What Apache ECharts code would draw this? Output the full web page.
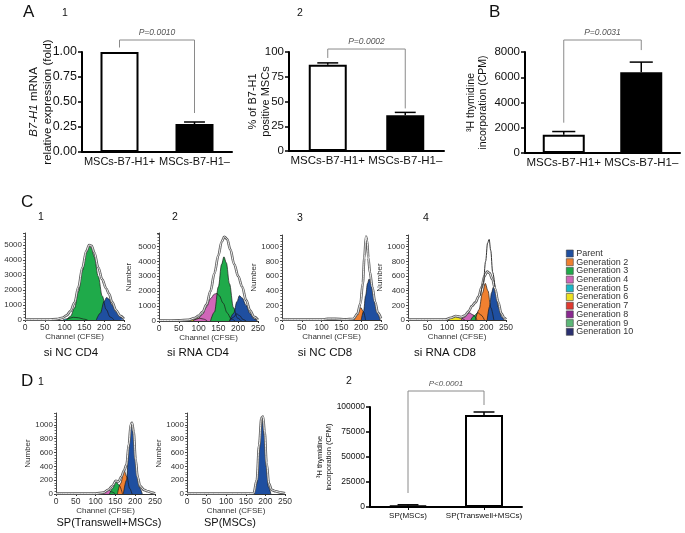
<!DOCTYPE html>
<html><head><meta charset="utf-8">
<script src="https://cdn.jsdelivr.net/npm/echarts/dist/echarts.min.js"></script>
<style>html,body{margin:0;padding:0;background:#fff}#c{width:685px;height:533px}</style>
</head><body><div id="c"></div>
<script>
// ---------- DATA ----------
const catsAB = ['MSCs-B7-H1+', 'MSCs-B7-H1–'];
const a1Values = [1.00, 0.28];
const a1ErrTop = [1.00, 0.30];
const a1Ticks = [0, 0.25, 0.5, 0.75, 1.0];
const a1Bracket = [1.045, 0.39, 1.12];
const a1P = 'P=0.0010';

const a2Values = [87, 36];
const a2ErrTop = [89, 39];
const a2Ticks = [0, 25, 50, 75, 100];
const a2Bracket = [94, 43, 103];
const a2P = 'P=0.0002';

const bValues = [1450, 6400];
const bErrTop = [1700, 7200];
const bTicks = [0, 2000, 4000, 6000, 8000];
const bBracket = [2400, 8150, 8950];
const bP = 'P=0.0031';

const d2Cats = ['SP(MSCs)', 'SP(Transwell+MSCs)'];
const d2Values = [1500, 92000];
const d2ErrTop = [2200, 95000];
const d2Ticks = [0, 25000, 50000, 75000, 100000];
const d2Bracket = [14000, 102000, 116000];
const d2P = 'P<0.0001';

const histXTicks = [0, 50, 100, 150, 200, 250];
const cd4YTicks = [0, 1000, 2000, 3000, 4000, 5000];
const smallYTicks = [0, 200, 400, 600, 800, 1000];

const legendNames = ['Parent', 'Generation 2', 'Generation 3', 'Generation 4', 'Generation 5',
  'Generation 6', 'Generation 7', 'Generation 8', 'Generation 9', 'Generation 10'];

// C1 si NC CD4  ([channel, count])
const c1Parent = [[180,0],[190,450],[200,1250],[206,1500],[212,1400],[220,1000],[230,550],[240,200],[250,40]];
const c1Gen3 = [[105,0],[115,250],[125,800],[135,1900],[145,3300],[155,4500],[162,4900],[168,4800],[175,4200],[185,2900],[195,1600],[205,700],[215,200],[225,0]];
const c1Gen5 = [[95,0],[108,90],[122,180],[135,150],[148,60],[158,0]];
const c1Outline = [[0,25],[60,25],[80,60],[95,150],[105,300],[115,600],[125,1150],[135,2200],[145,3500],[155,4600],[162,5000],[168,4950],[175,4500],[185,3500],[195,2700],[205,2100],[212,1750],[220,1200],[230,650],[240,280],[250,80]];

// C2 si RNA CD4
const c2Parent = [[178,0],[188,500],[197,1300],[203,1700],[210,1550],[220,1050],[230,500],[240,150],[248,0]];
const c2Gen2 = [[178,0],[188,250],[196,480],[204,350],[212,100],[220,0]];
const c2Gen3 = [[130,0],[140,600],[150,2300],[158,3800],[164,4300],[170,3900],[178,2500],[188,900],[198,200],[208,0]];
const c2Gen4 = [[85,0],[98,150],[110,450],[120,950],[130,1500],[140,1800],[146,1850],[152,1700],[162,1200],[172,550],[182,150],[192,0]];
const c2Gen6 = [[75,0],[88,90],[100,200],[112,130],[122,0]];
const c2Outline = [[0,30],[50,40],[75,80],[90,200],[100,350],[110,600],[120,1100],[130,2000],[140,3200],[150,4400],[158,5300],[165,5650],[172,5500],[180,4800],[190,3800],[200,3000],[210,2300],[220,1400],[230,700],[240,280],[250,80]];

// C3 si NC CD8
const c3Parent = [[200,0],[206,120],[211,330],[216,500],[220,560],[225,500],[231,330],[240,100],[248,0]];
const c3Gen2 = [[180,0],[190,70],[199,170],[205,120],[211,0]];
const c3Outline = [[0,5],[100,5],[115,15],[135,15],[160,8],[180,15],[190,80],[198,220],[204,500],[208,850],[212,1140],[215,1080],[218,850],[222,650],[228,450],[235,250],[242,100],[250,20]];

// C4 si RNA CD8
const c4Parent = [[202,0],[208,180],[213,370],[218,450],[224,360],[231,170],[239,40],[245,0]];
const c4Gen2 = [[172,0],[181,140],[190,370],[197,500],[204,400],[211,170],[219,0]];
const c4Gen3 = [[160,0],[169,60],[178,100],[186,70],[195,0]];
const c4Gen4 = [[135,0],[145,40],[156,100],[166,70],[176,0]];
const c4Gen6 = [[100,0],[110,25],[121,45],[134,25],[145,0]];
const c4Outline = [[0,5],[95,5],[110,30],[122,55],[135,40],[145,60],[155,120],[163,190],[172,240],[180,320],[188,450],[195,600],[202,660],[208,640],[215,560],[222,430],[230,250],[238,90],[245,30],[250,10]];
const c4Sharp = [[185,330],[192,500],[198,800],[203,1050],[207,1100],[211,950],[216,650],[222,450]];

// D1 SP(Transwell+MSCs)
const d1aParent = [[170,0],[178,200],[184,650],[189,980],[192,1000],[197,800],[203,400],[210,100],[218,0]];
const d1aGen2 = [[155,0],[163,150],[172,340],[179,250],[186,80],[192,0]];
const d1aGen3 = [[135,0],[143,80],[151,180],[159,130],[168,0]];
const d1aGen4 = [[115,0],[124,30],[132,60],[141,30],[150,0]];
const d1aOutline = [[0,5],[100,5],[120,20],[132,60],[143,120],[151,190],[158,180],[165,250],[172,340],[178,420],[184,720],[189,1010],[192,1030],[196,900],[201,500],[206,250],[212,120],[222,60],[232,40],[242,20],[250,5]];

// D1 SP(MSCs)
const d1bParent = [[170,0],[178,150],[184,600],[189,1000],[193,1050],[197,850],[202,400],[208,100],[214,0]];
const d1bOutline = [[0,5],[150,5],[170,10],[178,200],[184,700],[190,1100],[194,1120],[198,900],[203,450],[209,150],[216,60],[226,40],[240,20],[250,10]];

// ---------- STYLE ----------
const FONT = '"Liberation Sans", Arial, sans-serif';
const genColors = {
  'Parent':'#1f4fa0','Generation 2':'#f08030','Generation 3':'#1faa4a','Generation 4':'#d066b8',
  'Generation 5':'#1ab8c8','Generation 6':'#ece020','Generation 7':'#e03a30','Generation 8':'#8a2890',
  'Generation 9':'#5cb878','Generation 10':'#2a3070'
};

const grids = [], xAxes = [], yAxes = [], series = [];

function addBarPanel(cfg) {
  const gi = grids.length;
  grids.push(Object.assign({containLabel:false}, cfg.grid));
  xAxes.push({
    type:'category', gridIndex:gi, data:cfg.cats,
    axisLine:{lineStyle:{color:'#000', width:cfg.axisW}},
    axisTick:{show:!!cfg.xTicks, alignWithLabel:true, length:3, lineStyle:{color:'#000'}},
    axisLabel:{interval:0, color:'#111', fontFamily:FONT, fontSize:cfg.xFont, margin:cfg.xMargin, hideOverlap:false}
  });
  const t = cfg.yTicks;
  yAxes.push({
    type:'value', gridIndex:gi, min:t[0], max:t[t.length-1], interval:t[1]-t[0],
    name:cfg.yName, nameLocation:'middle', nameRotate:90, nameGap:cfg.nameGap, nameMoveOverlap:false,
    nameTextStyle:{fontFamily:FONT, fontSize:cfg.nameFont, color:'#111', lineHeight:cfg.nameFont*1.15,
      rich:{i:{fontStyle:'italic', fontFamily:FONT, fontSize:cfg.nameFont, color:'#111'}}},
    axisLine:{show:true, lineStyle:{color:'#000', width:cfg.axisW}},
    axisTick:{show:true, length:4, lineStyle:{color:'#000', width:1.5}},
    axisLabel:{color:'#111', fontFamily:FONT, fontSize:cfg.yFont, margin:5, formatter:cfg.fmt},
    splitLine:{show:false}
  });
  series.push({
    type:'bar', xAxisIndex:gi, yAxisIndex:gi, barWidth:cfg.barWidth,
    data:cfg.values.map((v,i)=>({value:v, itemStyle:{color:cfg.fills[i], borderColor:'#000', borderWidth:2}}))
  });
  const cap = cfg.barWidth*0.55;
  series.push({
    type:'custom', xAxisIndex:gi, yAxisIndex:gi, z:5, encode:{x:0, y:[1,2]},
    data:cfg.values.map((v,i)=>[i, v, cfg.errTop[i]]),
    renderItem:(params, api)=>{
      const v = api.value(1), e = api.value(2);
      if (!(e > v)) return null;
      const p1 = api.coord([api.value(0), v]), p2 = api.coord([api.value(0), e]);
      return {type:'group', children:[
        {type:'line', shape:{x1:p1[0], y1:p1[1], x2:p2[0], y2:p2[1]}, style:{stroke:'#000', lineWidth:1.5}},
        {type:'line', shape:{x1:p2[0]-cap/2, y1:p2[1], x2:p2[0]+cap/2, y2:p2[1]}, style:{stroke:'#000', lineWidth:1.5}}
      ]};
    }
  });
  const b = cfg.bracket;
  series.push({
    type:'custom', xAxisIndex:gi, yAxisIndex:gi, z:5, encode:{x:0, y:[1,2,3]},
    data:[[0, b[0], b[1], b[2]]],
    renderItem:(params, api)=>{
      const lb = api.value(1), rb = api.value(2), top = api.value(3);
      const a = api.coord([0, lb]), bb = api.coord([0, top]), c = api.coord([1, top]), d = api.coord([1, rb]);
      return {type:'group', children:[
        {type:'polyline', shape:{points:[a, bb, c, d]}, style:{stroke:'#8a8a8a', lineWidth:1, fill:null}},
        {type:'text', style:{text:cfg.pText, x:(bb[0]+c[0])/2, y:bb[1]-3, align:'center', verticalAlign:'bottom',
          font:'italic '+cfg.pFont+'px '+FONT, fill:'#555'}}
      ]};
    }
  });
}

function addHist(cfg) {
  const gi = grids.length;
  grids.push(Object.assign({containLabel:false}, cfg.grid));
  xAxes.push({
    type:'value', gridIndex:gi, min:histXTicks[0], max:histXTicks[histXTicks.length-1],
    interval:histXTicks[1]-histXTicks[0],
    name:'Channel (CFSE)', nameLocation:'middle', nameGap:13,
    nameTextStyle:{fontFamily:FONT, fontSize:8, color:'#333'},
    axisLine:{lineStyle:{color:'#333', width:1}},
    axisTick:{show:true, length:2, lineStyle:{color:'#333'}},
    axisLabel:{color:'#333', fontFamily:FONT, fontSize:8.5, margin:3},
    splitLine:{show:false}
  });
  const t = cfg.yTicks;
  yAxes.push({
    type:'value', gridIndex:gi, min:0, max:cfg.ymax, interval:t[1]-t[0],
    name:cfg.yName ? 'Number' : '', nameLocation:'middle', nameRotate:90, nameGap:cfg.nameGap || 24,
    nameTextStyle:{fontFamily:FONT, fontSize:8, color:'#333'},
    axisLine:{show:true, lineStyle:{color:'#444', width:1}},
    axisTick:{show:true, length:2, lineStyle:{color:'#444'}},
    minorTick:{show:true, splitNumber:5, length:1.5, lineStyle:{color:'#666'}},
    axisLabel:{color:'#333', fontFamily:FONT, fontSize:8, margin:3,
      formatter:(v)=> (t.indexOf(v) >= 0 ? String(v) : '')},
    splitLine:{show:false}
  });
  cfg.peaks.forEach(p=>{
    series.push({
      type:'line', name:p.name, xAxisIndex:gi, yAxisIndex:gi, data:p.data, smooth:0.35, smoothMonotone:'x',
      symbol:'none', z:2, itemStyle:{color:genColors[p.name]},
      lineStyle:{color:'#1a1a1a', width:0.7},
      areaStyle:{color:genColors[p.name], opacity:1}
    });
  });
  cfg.outlines.forEach(o=>{
    series.push({type:'line', xAxisIndex:gi, yAxisIndex:gi, data:o, smooth:0.35, smoothMonotone:'x',
      symbol:'none', z:3, lineStyle:{color:'#5a5a5a', width:2.6}, silent:true});
    series.push({type:'line', xAxisIndex:gi, yAxisIndex:gi, data:o, smooth:0.35, smoothMonotone:'x',
      symbol:'none', z:4, lineStyle:{color:'#ffffff', width:0.9}, silent:true});
  });
  (cfg.thin || []).forEach(o=>{
    series.push({type:'line', xAxisIndex:gi, yAxisIndex:gi, data:o, smooth:0.35, smoothMonotone:'x',
      symbol:'none', z:4, lineStyle:{color:'#333', width:1}, silent:true});
  });
}

// ---------- PANELS ----------
addBarPanel({grid:{left:82, top:52, width:150, height:100}, cats:catsAB, values:a1Values, errTop:a1ErrTop,
  fills:['#ffffff','#000000'], yTicks:a1Ticks, fmt:(v)=>v.toFixed(2),
  yName:'{i|B7-H1} mRNA\nrelative expression (fold)', nameGap:28, nameFont:11.5, yFont:12.5, xFont:11, xMargin:4,
  barWidth:38, axisW:2, bracket:a1Bracket, pText:a1P, pFont:8.5});

addBarPanel({grid:{left:289, top:52, width:155, height:99}, cats:catsAB, values:a2Values, errTop:a2ErrTop,
  fills:['#ffffff','#000000'], yTicks:a2Ticks, fmt:(v)=>String(v),
  yName:'% of B7-H1\npositive MSCs', nameGap:17, nameFont:11, yFont:11.5, xFont:11.5, xMargin:4,
  barWidth:38, axisW:2, bracket:a2Bracket, pText:a2P, pFont:8.5});

addBarPanel({grid:{left:525, top:52, width:155, height:101}, cats:catsAB, values:bValues, errTop:bErrTop,
  fills:['#ffffff','#000000'], yTicks:bTicks, fmt:(v)=>String(v),
  yName:'³H thymidine\nincorporation (CPM)', nameGap:36, nameFont:10.5, yFont:11.5, xFont:11.5, xMargin:4,
  barWidth:42, axisW:2, bracket:bBracket, pText:bP, pFont:8.5});

addBarPanel({grid:{left:370, top:407, width:152, height:100}, cats:d2Cats, values:d2Values, errTop:d2ErrTop,
  fills:['#000000','#ffffff'], yTicks:d2Ticks, fmt:(v)=>String(v),
  yName:'³H thymidine\nincorporation (CPM)', nameGap:37, nameFont:7.5, yFont:8.5, xFont:8, xMargin:5,
  barWidth:38, axisW:2, xTicks:true, bracket:d2Bracket, pText:d2P, pFont:8});

addHist({grid:{left:25, top:233, width:99, height:87}, ymax:5800, yTicks:cd4YTicks, yName:false,
  peaks:[{name:'Generation 5', data:c1Gen5},{name:'Generation 3', data:c1Gen3},{name:'Parent', data:c1Parent},
         {name:'Generation 7', data:[]},{name:'Generation 8', data:[]},{name:'Generation 9', data:[]},{name:'Generation 10', data:[]}],
  outlines:[c1Outline]});
addHist({grid:{left:159, top:233, width:99, height:88}, ymax:5900, yTicks:cd4YTicks, yName:true, nameGap:26,
  peaks:[{name:'Generation 6', data:c2Gen6},{name:'Generation 4', data:c2Gen4},{name:'Generation 3', data:c2Gen3},
         {name:'Generation 2', data:c2Gen2},{name:'Parent', data:c2Parent}],
  outlines:[c2Outline]});
addHist({grid:{left:282, top:235, width:99, height:85}, ymax:1160, yTicks:smallYTicks, yName:true, nameGap:22,
  peaks:[{name:'Generation 2', data:c3Gen2},{name:'Parent', data:c3Parent}],
  outlines:[c3Outline]});
addHist({grid:{left:408, top:235, width:98, height:85}, ymax:1160, yTicks:smallYTicks, yName:true, nameGap:22,
  peaks:[{name:'Generation 6', data:c4Gen6},{name:'Generation 4', data:c4Gen4},{name:'Generation 3', data:c4Gen3},
         {name:'Generation 2', data:c4Gen2},{name:'Parent', data:c4Parent}],
  outlines:[c4Outline], thin:[c4Sharp]});
addHist({grid:{left:56, top:413, width:99, height:81}, ymax:1170, yTicks:smallYTicks, yName:true, nameGap:22,
  peaks:[{name:'Generation 4', data:d1aGen4},{name:'Generation 3', data:d1aGen3},{name:'Generation 2', data:d1aGen2},{name:'Parent', data:d1aParent}],
  outlines:[d1aOutline]});
addHist({grid:{left:187, top:413, width:98, height:81}, ymax:1170, yTicks:smallYTicks, yName:true, nameGap:22,
  peaks:[{name:'Parent', data:d1bParent}],
  outlines:[d1bOutline]});

function txt(s, x, y, size, align) {
  return {type:'text', x:x, y:y, silent:true,
    style:{text:s, font:size+'px '+FONT, fill:'#111', align:align||'left', verticalAlign:'top'}};
}

const graphics = [
  txt('A', 23, 4, 17), txt('1', 62, 8, 10.5), txt('2', 297, 8, 10.5), txt('B', 489, 4, 17),
  txt('C', 21, 194, 17), txt('1', 38, 212, 10.5), txt('2', 172, 212, 10.5), txt('3', 297, 213, 10.5), txt('4', 423, 213, 10.5),
  txt('si NC CD4', 71, 347, 11.5, 'center'), txt('si RNA CD4', 198, 347, 11.5, 'center'),
  txt('si NC CD8', 325, 347, 11.5, 'center'), txt('si RNA CD8', 445, 347, 11.5, 'center'),
  txt('D', 21, 373, 17), txt('1', 38, 377, 10.5), txt('2', 346, 376, 10.5),
  txt('SP(Transwell+MSCs)', 109, 517, 11, 'center'), txt('SP(MSCs)', 230, 517, 11, 'center')
];

const chart = echarts.init(document.getElementById('c'), null, {renderer:'canvas'});
chart.setOption({
  animation:false,
  backgroundColor:'#ffffff',
  textStyle:{fontFamily:FONT},
  legend:{
    data:legendNames, orient:'vertical', left:561, top:244, icon:'rect',
    itemWidth:7, itemHeight:7, itemGap:-0.3, selectedMode:false,
    itemStyle:{borderColor:'#444', borderWidth:0.6},
    textStyle:{fontFamily:FONT, fontSize:9, color:'#333', lineHeight:7, padding:[0,0,0,-2]}
  },
  grid:grids, xAxis:xAxes, yAxis:yAxes, series:series, graphic:graphics
});
</script></body></html>
